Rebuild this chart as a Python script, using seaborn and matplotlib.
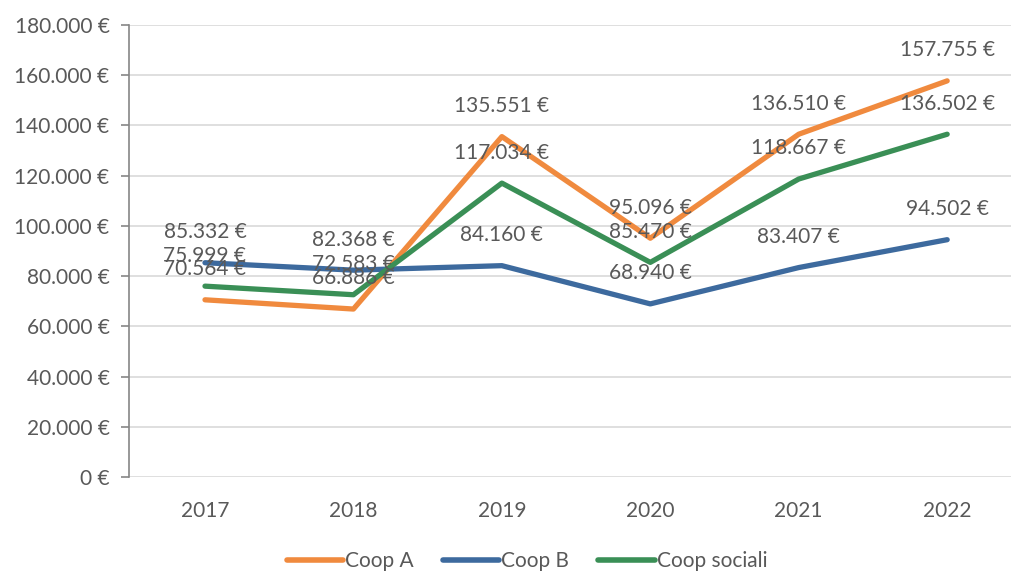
import pandas as pd
import matplotlib.pyplot as plt
import seaborn as sns
from matplotlib.ticker import FuncFormatter

# Chart data
years = ['2017', '2018', '2019', '2020', '2021', '2022']
coop_a = [70564, 66886, 135551, 95096, 136510, 157755]
coop_b = [85332, 82368, 84160, 68940, 83407, 94502]
coop_sociali = [75999, 72583, 117034, 85470, 118667, 136502]
series_names = ['Coop A', 'Coop B', 'Coop sociali']
colors = ['#F08A3E', '#3D6A9E', '#3A8F56']

df = pd.DataFrame({
    'year': years * 3,
    'value': coop_a + coop_b + coop_sociali,
    'series': sum([[s] * len(years) for s in series_names], []),
})

def euro(v):
    return f"{int(round(v)):,}".replace(',', '.') + ' €'

sns.set_style('white')
plt.rcParams['font.family'] = ['Lato', 'DejaVu Sans']
text_col = '#595959'
fs = 15

fig = plt.figure(figsize=(10.11, 5.72), dpi=100)
ax = fig.add_axes([129 / 1011, 1 - 477 / 572, 1 - 129 / 1011, (477 - 25) / 572])

sns.lineplot(data=df, x='year', y='value', hue='series', palette=colors,
             linewidth=3.8, sort=False, ax=ax, legend=True)
for line in ax.lines:
    line.set_solid_capstyle('round')
    line.set_solid_joinstyle('round')

# data labels above points
for i, s in enumerate(series_names):
    sub = df[df['series'] == s]
    for x, v in zip(range(len(years)), sub['value']):
        ax.annotate(euro(v), (x, v), xytext=(0, 22), textcoords='offset points',
                    ha='center', va='center', fontsize=fs, color=text_col)

ax.set_ylim(0, 180000)
ax.set_yticks(range(0, 180001, 20000))
ax.yaxis.set_major_formatter(FuncFormatter(lambda v, p: euro(v)))
ax.set_xlim(-0.512, 5.43)
ax.grid(axis='y', color='#D9D9D9', linewidth=1.2)
ax.set_axisbelow(True)
for side in ['top', 'right', 'bottom']:
    ax.spines[side].set_visible(False)
ax.spines['left'].set_color('#868686')
ax.spines['left'].set_linewidth(1.2)
ax.tick_params(axis='y', which='major', left=True, length=6, width=1.2,
               color='#868686', labelsize=fs, labelcolor=text_col, pad=8)
ax.tick_params(axis='x', bottom=False, labelsize=fs, labelcolor=text_col, pad=14)
ax.set_xlabel('')
ax.set_ylabel('')

handles, labels = ax.get_legend_handles_labels()
leg = ax.legend(handles, labels, loc='center', bbox_to_anchor=(527 / 1011, 11 / 572),
                bbox_transform=fig.transFigure, ncol=3, frameon=False,
                fontsize=fs, handlelength=2.7, handletextpad=0.1, columnspacing=1.4)
for t in leg.get_texts():
    t.set_color(text_col)
for h in leg.get_lines():
    h.set_linewidth(4)
    h.set_solid_capstyle('round')

fig.savefig('out.png', dpi=100)
